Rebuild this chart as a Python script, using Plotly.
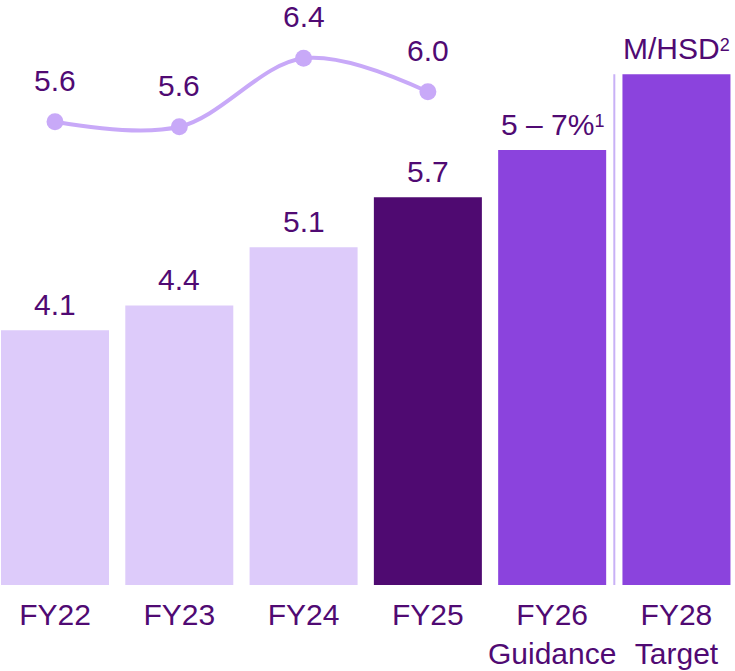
import plotly.graph_objects as go

# ---- data ----
categories = ["FY22", "FY23", "FY24", "FY25", "FY26", "FY28"]
tick_labels = ["FY22", "FY23", "FY24", "FY25", "FY26<br>Guidance", "FY28<br>Target"]
bar_values = [4.1, 4.4, 5.1, 5.7, 6.27, 7.18]   # last two: estimated drawn heights
SUP = "<span style='font-size:19px'><sup><span style='font-size:18px'>{}</span></sup></span>"
bar_labels = ["4.1", "4.4", "5.1", "5.7", "5 – 7%" + SUP.format("1"), "M/HSD" + SUP.format("2")]
line_categories = ["FY22", "FY23", "FY24", "FY25"]
line_values = [5.64, 5.58, 6.40, 6.00]
line_labels = ["5.6", "5.6", "6.4", "6.0"]

# ---- styles ----
TEXT = "#500a73"
LIGHT = "#ddcbfa"
DARK = "#4f0a71"
MID = "#8b43dd"
LINEC = "#c8a9f8"
FONT = "Arial, Liberation Sans, sans-serif"
bar_colors = [LIGHT, LIGHT, LIGHT, DARK, MID, MID]

fig = go.Figure()
fig.add_trace(go.Bar(
    x=categories, y=bar_values, marker=dict(color=bar_colors, line=dict(width=0)),
    width=0.869, hoverinfo="skip",
))
fig.add_trace(go.Scatter(
    x=line_categories, y=line_values, yaxis="y2", mode="lines+markers",
    line=dict(color=LINEC, width=4, shape="spline"),
    marker=dict(color=LINEC, size=17), cliponaxis=False, hoverinfo="skip",
))

annotations = []
for c, v, t in zip(categories, bar_values, bar_labels):
    annotations.append(dict(x=c, y=v, xref="x", yref="y", text=t, showarrow=False,
                            yanchor="bottom", yshift=7,
                            font=dict(family=FONT, size=30, color=TEXT)))
for c, v, t in zip(line_categories, line_values, line_labels):
    annotations.append(dict(x=c, y=v, xref="x", yref="y2", text=t, showarrow=False,
                            yanchor="bottom", yshift=23,
                            font=dict(family=FONT, size=30, color=TEXT)))

fig.add_shape(type="line", xref="x", yref="y", x0=4.5, x1=4.5,
              y0=1.035, y1=bar_values[-1], line=dict(color="#c9b1f6", width=2))

fig.update_layout(
    width=735, height=671, margin=dict(l=0, r=0, t=0, b=86, autoexpand=False),
    plot_bgcolor="white", paper_bgcolor="white", showlegend=False,
    font=dict(family=FONT, color=TEXT, size=30),
    annotations=annotations,
    xaxis=dict(type="category", range=[-0.4425, 5.471], tickvals=categories,
               ticktext=tick_labels, showgrid=False, zeroline=False, showline=False,
               ticks="", automargin=False, ticklabelstandoff=9,
               tickfont=dict(family=FONT, size=30, color=TEXT)),
    yaxis=dict(range=[1.035, 8.075], visible=False, showgrid=False, automargin=False),
    yaxis2=dict(range=[0.094, 7.098], overlaying="y", visible=False, showgrid=False,
                automargin=False),
)

fig.write_html("out.html", config={"displayModeBar": False},
               post_script="document.body.style.margin='0';")
